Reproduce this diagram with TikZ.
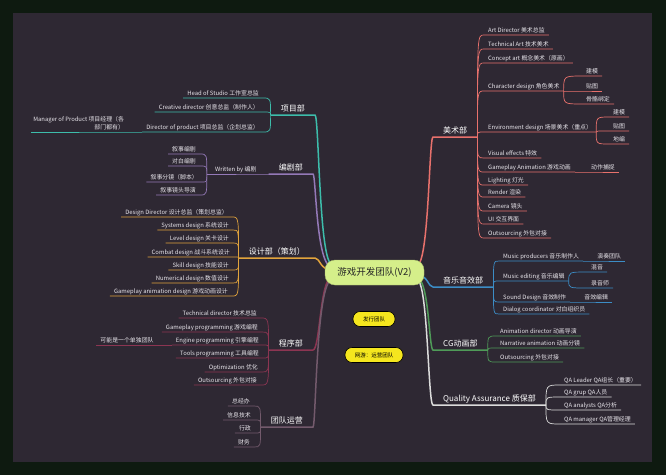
\documentclass[tikz,border=0pt]{standalone}
\usepackage{fontspec}
\setmainfont{Noto Sans CJK SC}
\usepackage{tikz}
\definecolor{frame}{HTML}{0E1A10}
\definecolor{panel}{HTML}{2E2833}
\definecolor{leaftext}{HTML}{E8E5EB}
\definecolor{cxm}{HTML}{3DBDAB}
\definecolor{cbj}{HTML}{9479B8}
\definecolor{csj}{HTML}{E2A43C}
\definecolor{ccx}{HTML}{8C3552}
\definecolor{cyy}{HTML}{735A6C}
\definecolor{cms}{HTML}{E8716C}
\definecolor{cyx}{HTML}{3C8DC6}
\definecolor{ccg}{HTML}{4F9B58}
\definecolor{cqa}{HTML}{DCDCDC}
\definecolor{rootfill}{HTML}{D5EF8A}
\definecolor{boxfill}{HTML}{F5E61E}
\newcommand{\leaffont}{\fontsize{5.9}{8}\selectfont}
\newcommand{\topicfont}{\fontsize{8}{9}\selectfont}
\tikzset{leafL/.style={anchor=south east, text=leaftext, font=\leaffont, inner xsep=4pt, inner ysep=1.6pt, text height=4.5pt, text depth=1.1pt},
  leafR/.style={leafL, anchor=south west},
  topicL/.style={anchor=south east, text=white, font=\topicfont, inner xsep=10pt, inner ysep=2pt, text height=6pt, text depth=1.5pt},
  topicR/.style={topicL, anchor=south west},
  twig/.style={line width=0.7pt}, trunk/.style={line width=1.5pt},
  rootbox/.style={fill=rootfill, draw=rootfill!80!black, rounded corners=10pt, minimum width=99pt, minimum height=25pt, font=\fontsize{9.5}{10}\selectfont, text=black!85},
  tagbox/.style={fill=boxfill, draw=black, line width=0.6pt, rounded corners=7pt, minimum height=15pt, inner xsep=6pt, font=\fontsize{5.5}{6}\selectfont, text=black}}

\begin{document}
\begin{tikzpicture}[x=1pt, y=-1pt]
  \fill[frame] (0,0) rectangle (666,475);
  \fill[panel] (13,13) rectangle (652,462);

  % 项目部
  \node [topicL] (xm) at (315,115) {项目部};
  \node [leafL] (hs) at (263,98) {Head of Studio 工作室总监};
  \node [leafL] (cd) at (263,112) {Creative director 创意总监（制作人）};
  \node [leafL] (dp) at (263,132) {Director of product 项目总监（企划总监）};
  \node [anchor=south east, text=leaftext, font=\leaffont, align=right, inner xsep=2pt, inner ysep=1.6pt] (mp) at ([xshift=-16pt]dp.south west) {Manager of Product 项目经理（各\\部门都有）};

  % 编剧部
  \node [topicL] (bj) at (313,174) {编剧部};
  \node [leafL, inner xsep=8pt] (wb) at ([xshift=-4pt]bj.south west) {Written by 编剧};
  \node [leafL] (n1) at (200,154) {叙事编剧};
  \node [leafL] (n2) at (200,166) {对白编剧};
  \node [leafL] (n3) at (202,182) {叙事分镜（脚本）};
  \node [leafL] (n4) at (200,195) {叙事镜头导演};

  % 设计部
  \node [topicL] (sj) at (315,258) {设计部（策划）};
  \node [leafL] (s1) at (232,217) {Design Director 设计总监（策划总监）};
  \node [leafL] (s2) at (233,230) {Systems design 系统设计};
  \node [leafL] (s3) at (233,243) {Level design 关卡设计};
  \node [leafL] (s4) at (234,257) {Combat design 战斗系统设计};
  \node [leafL] (s5) at (233,270) {Skill design 技能设计};
  \node [leafL] (s6) at (233,283) {Numerical design 数值设计};
  \node [leafL] (s7) at (232,296) {Gameplay animation design 游戏动画设计};

  % 程序部
  \node [topicL] (cx) at (313,350) {程序部};
  \node [leafL] (p1) at (261,318) {Technical director 技术总监};
  \node [leafL] (p2) at (262,332) {Gameplay programming 游戏编程};
  \node [leafL] (p3) at (263,345) {Engine programming 引擎编程};
  \node [leafL] (p3a) at ([xshift=-14pt]p3.south west) {可能是一个单独团队};
  \node [leafL] (p4) at (263,358) {Tools programming 工具编程};
  \node [leafL] (p5) at (262,372) {Optimization 优化};
  \node [leafL] (p6) at (261,385) {Outsourcing 外包对接};

  % 团队运营
  \node [topicL] (yy) at (313,427) {团队运营};
  \node [leafL] (o1) at (254,406) {总经办};
  \node [leafL] (o2) at (255,420) {信息技术};
  \node [leafL] (o3) at (255,433) {行政};
  \node [leafL] (o4) at (254,447) {财务};

  % 美术部
  \node [topicR] (ms) at (433,137) {美术部};
  \node [leafR] (a1) at (484,35) {Art Director 美术总监};
  \node [leafR] (a2) at (484,49) {Technical Art 技术美术};
  \node [leafR] (a3) at (484,63) {Concept art 概念美术（原画）};
  \node [leafR] (a4) at (484,91) {Character design 角色美术};
  \node [leafR] (a41) at (582,76) {建模};
  \node [leafR] (a42) at (582,91) {贴图};
  \node [leafR] (a43) at (582,104) {骨骼绑定};
  \node [leafR] (a5) at (484,132) {Environment design 场景美术（重点）};
  \node [leafR] (a51) at (609,117) {建模};
  \node [leafR] (a52) at (609,131) {贴图};
  \node [leafR] (a53) at (609,144) {地编};
  \node [leafR] (a6) at (484,158) {Visual effects 特效};
  \node [leafR] (a7) at (484,172) {Gameplay Animation 游戏动画};
  \node [leafR] (a71) at ([xshift=12pt]a7.south east) {动作捕捉};
  \node [leafR] (a8) at (484,185) {Lighting 灯光};
  \node [leafR] (a9) at (484,197) {Render 渲染};
  \node [leafR] (a10) at (484,211) {Camera 镜头};
  \node [leafR] (a11) at (484,224) {UI 交互界面};
  \node [leafR] (a12) at (484,238) {Outsourcing 外包对接};

  % 音乐音效部
  \node [topicR] (yx) at (433,287) {音乐音效部};
  \node [leafR] (m1) at (499,261) {Music producers 音乐制作人};
  \node [leafR] (m11) at ([xshift=10pt]m1.south east) {演奏团队};
  \node [leafR] (m2) at (499,281) {Music editing 音乐编辑};
  \node [leafR] (m21) at (587,272) {混音};
  \node [leafR] (m22) at (587,288) {录音师};
  \node [leafR] (m3) at (499,302) {Sound Design 音效制作};
  \node [leafR] (m31) at ([xshift=10pt]m3.south east) {音效编辑};
  \node [leafR] (m4) at (499,314) {Dialog coordinator 对白组织员};

  % CG动画部
  \node [topicR] (cg) at (433,350) {CG动画部};
  \node [leafR] (g1) at (496,336) {Animation director 动画导演};
  \node [leafR] (g2) at (496,348) {Narrative animation 动画分镜};
  \node [leafR] (g3) at (496,362) {Outsourcing 外包对接};

  % 质保部
  \node [topicR] (qa) at (433,405) {Quality Assurance 质保部};
  \node [leafR] (q1) at (560,385) {QA Leader QA组长（重要）};
  \node [leafR] (q2) at (560,397) {QA grup QA人员};
  \node [leafR] (q3) at (560,410) {QA analysts QA分析};
  \node [leafR] (q4) at (560,424) {QA manager QA管理经理};

  % trunk ends, hidden under the root
  \coordinate (rxm) at (332,264);
  \coordinate (rbj) at (332,267);
  \coordinate (rsj) at (332,270);
  \coordinate (rcx) at (332,277);
  \coordinate (ryy) at (332,280);
  \coordinate (rms) at (417,265);
  \coordinate (ryx) at (417,275);
  \coordinate (rcg) at (417,278);
  \coordinate (rqa) at (417,280);

  % left branches
  \draw [cxm, trunk] (rxm) .. controls +(-13,0) and +(4,0) .. (xm.south east) -- (xm.south west);
  \foreach \x in {hs,cd,dp}
    \draw [cxm, twig] (xm.south west) .. controls (xm.south west |- \x.south east) .. (\x.south east) -- (\x.south west);
  \draw [cxm, twig] (dp.south west) -- (mp.south east) -- (mp.south west);

  \draw [cbj, trunk] (rbj) .. controls +(-16,0) and +(3,0) .. (bj.south east) -- (bj.south west);
  \draw [cbj, twig] (bj.south west) -- (wb.south east) -- (wb.south west);
  \foreach \x in {n1,n2,n3,n4}
    \draw [cbj, twig] (wb.south west) .. controls (wb.south west |- \x.south east) .. (\x.south east) -- (\x.south west);

  \draw [csj, trunk] (rsj) .. controls +(-12,0) and +(5,0) .. (sj.south east) -- (sj.south west);
  \foreach \x in {s1,s2,s3,s4,s5,s6,s7}
    \draw [csj, twig] (sj.south west) .. controls (sj.south west |- \x.south east) .. (\x.south east) -- (\x.south west);

  \draw [ccx, trunk] (rcx) .. controls +(-12,0) and +(7,0) .. (cx.south east) -- (cx.south west);
  \foreach \x in {p1,p2,p3,p4,p5,p6}
    \draw [ccx, twig] (cx.south west) .. controls (cx.south west |- \x.south east) .. (\x.south east) -- (\x.south west);
  \draw [ccx, twig] (p3.south west) -- (p3a.south east) -- (p3a.south west);

  \draw [cyy, trunk] (ryy) .. controls +(-16,0) and +(3,0) .. (yy.south east) -- (yy.south west);
  \foreach \x in {o1,o2,o3,o4}
    \draw [cyy, twig] (yy.south west) .. controls (yy.south west |- \x.south east) .. (\x.south east) -- (\x.south west);

  % right branches
  \draw [cms, trunk] (rms) .. controls +(12,0) and +(-4,0) .. (ms.south west) -- (ms.south east);
  \foreach \x in {a1,a2,a3,a4,a5,a6,a7,a8,a9,a10,a11,a12}
    \draw [cms, twig] (ms.south east) .. controls (ms.south east |- \x.south west) .. (\x.south west) -- (\x.south east);
  \foreach \x in {a41,a42,a43}
    \draw [cms, twig] (a4.south east) .. controls (a4.south east |- \x.south west) .. (\x.south west) -- (\x.south east);
  \foreach \x in {a51,a52,a53}
    \draw [cms, twig] (a5.south east) .. controls (a5.south east |- \x.south west) .. (\x.south west) -- (\x.south east);
  \draw [cms, twig] (a7.south east) -- (a71.south west) -- (a71.south east);

  \draw [cyx, trunk] (ryx) .. controls +(11,0) and +(-5,0) .. (yx.south west) -- (yx.south east);
  \foreach \x in {m1,m2,m3,m4}
    \draw [cyx, twig] (yx.south east) .. controls (yx.south east |- \x.south west) .. (\x.south west) -- (\x.south east);
  \foreach \x in {m21,m22}
    \draw [cyx, twig] (m2.south east) .. controls (m2.south east |- \x.south west) .. (\x.south west) -- (\x.south east);
  \draw [cyx, twig] (m1.south east) -- (m11.south west) -- (m11.south east);
  \draw [cyx, twig] (m3.south east) -- (m31.south west) -- (m31.south east);

  \draw [ccg, trunk] (rcg) .. controls +(12,0) and +(-4,0) .. (cg.south west) -- (cg.south east);
  \foreach \x in {g1,g2,g3}
    \draw [ccg, twig] (cg.south east) .. controls (cg.south east |- \x.south west) .. (\x.south west) -- (\x.south east);

  \draw [cqa, trunk] (rqa) .. controls +(11,0) and +(-5,0) .. (qa.south west) -- (qa.south east);
  \foreach \x in {q1,q2,q3,q4}
    \draw [cqa, twig] (qa.south east) .. controls (qa.south east |- \x.south west) .. (\x.south west) -- (\x.south east);

  % centre
  \node [rootbox] (root) at (374.5,272.5) {游戏开发团队(V2)};
  \node [tagbox, minimum width=42pt] (fx) at (374,319) {发行团队};
  \node [tagbox, minimum width=58pt] (wy) at (374,355) {网游：运营团队};
\end{tikzpicture}
\end{document}
